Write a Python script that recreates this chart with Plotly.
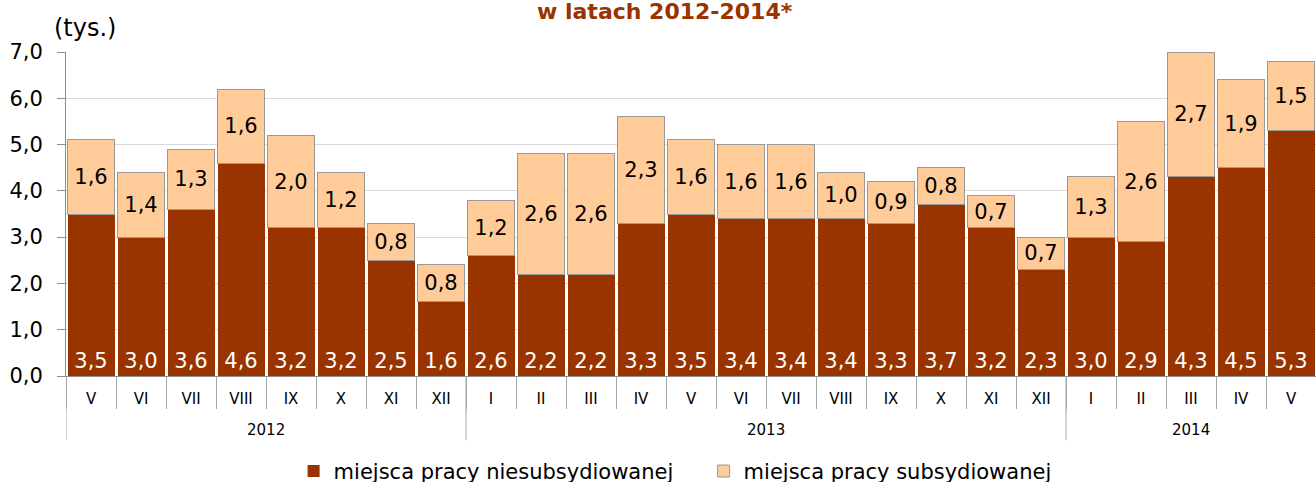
import plotly.graph_objects as go

years = ["2012"] * 8 + ["2013"] * 12 + ["2014"] * 5
months = ["V", "VI", "VII", "VIII", "IX", "X", "XI", "XII",
          "I", "II", "III", "IV", "V", "VI", "VII", "VIII", "IX", "X", "XI", "XII",
          "I", "II", "III", "IV", "V"]
niesubsydiowane = [3.5, 3.0, 3.6, 4.6, 3.2, 3.2, 2.5, 1.6,
                   2.6, 2.2, 2.2, 3.3, 3.5, 3.4, 3.4, 3.4, 3.3, 3.7, 3.2, 2.3,
                   3.0, 2.9, 4.3, 4.5, 5.3]
subsydiowane = [1.6, 1.4, 1.3, 1.6, 2.0, 1.2, 0.8, 0.8,
                1.2, 2.6, 2.6, 2.3, 1.6, 1.6, 1.6, 1.0, 0.9, 0.8, 0.7, 0.7,
                1.3, 2.6, 2.7, 1.9, 1.5]

FONT = "DejaVu Sans, Verdana, sans-serif"
DARK = "#993300"
LIGHT = "#FFCC99"
GRAY = "#a6a6a6"

keys = [f"{y}-{m}" for y, m in zip(years, months)]

fig = go.Figure()
fig.add_trace(go.Bar(
    x=keys, y=niesubsydiowane,
    name="miejsca pracy niesubsydiowanej",
    marker=dict(color=DARK, line=dict(width=0)),
    texttemplate="%{y:.1f}", textposition="inside", insidetextanchor="start",
    textfont=dict(color="white", size=21, family=FONT),
    constraintext="none",
))
fig.add_trace(go.Bar(
    x=keys, y=subsydiowane,
    name="miejsca pracy subsydiowanej",
    marker=dict(color=LIGHT, line=dict(color="#999999", width=1)),
    texttemplate="%{y:.1f}", textposition="inside", insidetextanchor="middle",
    textfont=dict(color="black", size=21, family=FONT),
    constraintext="none",
))

# year group labels and dividers, derived from the category list
annotations = []
shapes = []
groups = []
for i, y in enumerate(years):
    if not groups or groups[-1][0] != y:
        groups.append([y, i, i])
    else:
        groups[-1][2] = i
for y, start, end in groups:
    annotations.append(dict(text=y, xref="x", yref="paper", x=(start + end) / 2, y=-0.167,
                            xanchor="center", yanchor="middle", showarrow=False,
                            font=dict(size=15, family=FONT, color="black")))
    shapes.append(dict(type="line", xref="x", yref="paper", x0=start - 0.5, x1=start - 0.5,
                       y0=0, y1=-0.198, line=dict(color=GRAY, width=1)))

annotations += [
    dict(text="<b>w latach 2012-2014*</b>", xref="paper", yref="paper", x=0.479, y=1.126,
         xanchor="center", yanchor="middle", showarrow=False,
         font=dict(size=22, color=DARK, family=FONT)),
    dict(text="(tys.)", xref="paper", yref="paper", x=-0.0115, y=1.074,
         xanchor="left", yanchor="middle", showarrow=False,
         font=dict(size=24, color="black", family=FONT)),
]

fig.update_layout(
    width=1316, height=482,
    barmode="stack", bargap=0.06,
    separators=", ",
    plot_bgcolor="white", paper_bgcolor="white",
    margin=dict(l=66, r=0, t=52, b=106, autoexpand=False),
    font=dict(family=FONT, color="black"),
    showlegend=True,
    legend=dict(orientation="h", xref="container", x=0.2231, xanchor="left",
                yref="container", y=0.022, yanchor="middle",
                traceorder="normal", font=dict(size=21, family=FONT),
                itemwidth=30, entrywidth=365),
    annotations=annotations,
    shapes=shapes,
)
fig.update_yaxes(
    range=[0, 7], dtick=1, tickformat=".1f", automargin=False,
    showgrid=True, gridcolor="#d9d9d9", gridwidth=1,
    showline=True, linecolor="#8c8c8c", linewidth=1,
    ticks="outside", ticklen=8, tickcolor="#8c8c8c",
    tickfont=dict(size=21, family=FONT), zeroline=False,
    ticklabelstandoff=10,
)
fig.update_xaxes(
    type="category", tickvals=keys, ticktext=months, automargin=False,
    range=[-0.5, len(keys) - 0.5],
    showline=True, linecolor="#8c8c8c", linewidth=1,
    ticks="outside", tickson="boundaries", ticklen=32, tickcolor=GRAY,
    ticklabelstandoff=9,
    tickfont=dict(size=15, family=FONT),
)

fig.write_html("out.html", config={"displayModeBar": False},
               post_script="document.body.style.margin='0';document.body.style.overflow='hidden';")
